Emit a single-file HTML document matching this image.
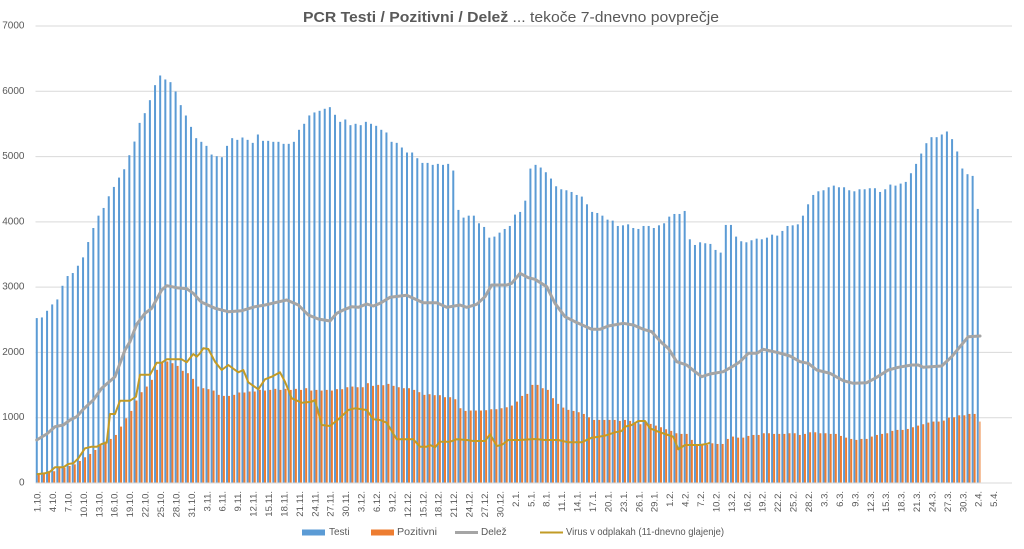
<!DOCTYPE html>
<html><head><meta charset="utf-8">
<style>
html,body{margin:0;padding:0;background:#fff;width:1024px;height:549px;overflow:hidden}
svg{display:block;font-family:"Liberation Sans",Arial,sans-serif}
.xl{font-size:9.5px;text-anchor:end;dominant-baseline:central;fill:#595959}
.yl{font-size:10px;text-anchor:end;dominant-baseline:central;fill:#595959}
.lg{font-size:10px;dominant-baseline:central;fill:#595959}
</style></head><body>
<svg id="s" width="1024" height="549" viewBox="0 0 1024 549" xmlns="http://www.w3.org/2000/svg">
<rect x="0" y="0" width="1024" height="549" fill="#fff"/>
<text x="303" y="22" font-size="15" fill="#595959" textLength="416" lengthAdjust="spacingAndGlyphs"><tspan font-weight="bold">PCR Testi / Pozitivni / Delež</tspan> ... tekoče 7-dnevno povprečje</text>
<g stroke="#d9d9d9" stroke-width="1">
<line x1="35.5" x2="1012" y1="417.71" y2="417.71"/>
<line x1="35.5" x2="1012" y1="352.43" y2="352.43"/>
<line x1="35.5" x2="1012" y1="287.14" y2="287.14"/>
<line x1="35.5" x2="1012" y1="221.86" y2="221.86"/>
<line x1="35.5" x2="1012" y1="156.57" y2="156.57"/>
<line x1="35.5" x2="1012" y1="91.29" y2="91.29"/>
<line x1="35.5" x2="1012" y1="26" y2="26"/>
</g>
<g>
<text class="yl" x="24.5" y="483">0</text>
<text class="yl" x="24.5" y="417.71">1000</text>
<text class="yl" x="24.5" y="352.43">2000</text>
<text class="yl" x="24.5" y="287.14">3000</text>
<text class="yl" x="24.5" y="221.86">4000</text>
<text class="yl" x="24.5" y="156.57">5000</text>
<text class="yl" x="24.5" y="91.29">6000</text>
<text class="yl" x="24.5" y="26">7000</text>
</g>
<g id="bars"></g>
<line x1="35.5" x2="1012" y1="483" y2="483" stroke="#d9d9d9" stroke-width="1"/>
<polyline fill="none" stroke="#a5a5a5" stroke-width="3" stroke-linejoin="round" stroke-linecap="round" points="36.7,440 46.7,434 55,426.7 63.3,425 70,420 76.7,416.7 83.3,409.3 93.3,400 101.7,388.3 115,376.7 125,350 130,341.7 136.7,324.3 145,313.3 151.7,308.3 161.7,290 166.7,285.7 176.7,287.7 186.7,288.7 193.3,293.3 200,300.7 201.7,302.3 215,308.3 228.3,311.7 241.7,310.7 255,306.7 265,305 275,302.7 286.7,300 298.3,305 308.3,315 318.3,319 330,321 336.7,313.3 343.3,310 351.7,306.7 358.3,307.3 366.7,304 373.3,306 380,303.3 390,297.3 406.7,295.3 413.3,298.3 423.3,302.7 436.7,302.7 446.7,307.3 460,305 466.7,307.3 476.7,304.3 485,296.7 491.7,285 506.7,285 511.7,283.3 520,273.3 528.3,277.7 535,279.3 546.7,286.7 555,303.3 565,316.7 575,321.7 591.7,329.3 600,329.3 608.3,326 623.3,323.3 633.3,325 643.3,329.3 651.7,331.7 661.7,342.7 668.3,348.3 676.7,361.7 686.7,365 695,371.7 701.7,376.7 710,374 723.3,371.7 733.3,366 740,361.7 748.3,353.3 756.7,353.3 763.3,349.3 778.3,352.7 790,356 800,361.7 808.3,363.3 816.7,370 830,373.3 843.3,380.7 853.3,383.3 866.7,382.7 875,378.3 888.3,370 898.3,367.3 911.7,365 918.3,365 923.3,367.3 941.7,366 951.7,356.7 960,346.7 968.3,336.7 980,336"/>
<polyline fill="none" stroke="#c29b26" stroke-width="2" stroke-linejoin="round" points="36.7,474.3 45,473.3 50,471.7 55,467.3 63.3,467.3 68.3,464 73.3,463.3 78.3,458.3 85,448.3 91.7,446.7 96.7,446.7 101.7,444 106.7,442.7 110,414 115,414 120,400.7 130,400.7 136,396.7 140,374.7 150,374.7 156.7,362.7 161.7,362.7 166.7,359.3 181.7,359.3 186.7,362.3 193.3,354 196.7,356.7 200,353.3 203.3,348.3 208.3,349 215,361.7 221.7,370 228.3,365 238.3,372.3 243.3,370 248.3,382.3 258.3,389.3 265,379.3 271.7,376.7 280,372.3 285,381.7 291.7,398.3 301.7,402.7 311.7,401.7 315,400 321.7,425 330,426 338.3,419.3 348.3,410 355,408.3 366.7,410 373.3,419.3 380,420 386.7,422.7 396.7,439.3 413.3,439.3 420,446.7 426.7,446.7 430,445 435,447.3 440,441.7 450,441.7 456.7,439.3 466.7,440 473.3,441 485,441 490,434.3 496.7,446 501.7,445 508.3,440 520,440 535,439 545,440 558.3,440 568.3,442.3 581.7,442.3 591.7,437.7 605,435.7 615,432.3 621.7,431 625,426.7 631.7,425 638.3,421 645,421 650,428.3 658.3,431.7 665,434 673.3,436.7 678.3,449.3 685,445 700,445 706.7,444 710,442.7"/>
<g>
<text class="xl" transform="translate(38.07 491) rotate(-90)">1.10.</text>
<text class="xl" transform="translate(53.5 491) rotate(-90)">4.10.</text>
<text class="xl" transform="translate(68.93 491) rotate(-90)">7.10.</text>
<text class="xl" transform="translate(84.36 491) rotate(-90)">10.10.</text>
<text class="xl" transform="translate(99.79 491) rotate(-90)">13.10.</text>
<text class="xl" transform="translate(115.2 491) rotate(-90)">16.10.</text>
<text class="xl" transform="translate(130.6 491) rotate(-90)">19.10.</text>
<text class="xl" transform="translate(146.1 491) rotate(-90)">22.10.</text>
<text class="xl" transform="translate(161.5 491) rotate(-90)">25.10.</text>
<text class="xl" transform="translate(176.9 491) rotate(-90)">28.10.</text>
<text class="xl" transform="translate(192.4 491) rotate(-90)">31.10.</text>
<text class="xl" transform="translate(207.8 491) rotate(-90)">3.11.</text>
<text class="xl" transform="translate(223.2 491) rotate(-90)">6.11.</text>
<text class="xl" transform="translate(238.6 491) rotate(-90)">9.11.</text>
<text class="xl" transform="translate(254.1 491) rotate(-90)">12.11.</text>
<text class="xl" transform="translate(269.5 491) rotate(-90)">15.11.</text>
<text class="xl" transform="translate(284.9 491) rotate(-90)">18.11.</text>
<text class="xl" transform="translate(300.4 491) rotate(-90)">21.11.</text>
<text class="xl" transform="translate(315.8 491) rotate(-90)">24.11.</text>
<text class="xl" transform="translate(331.2 491) rotate(-90)">27.11.</text>
<text class="xl" transform="translate(346.7 491) rotate(-90)">30.11.</text>
<text class="xl" transform="translate(362.1 491) rotate(-90)">3.12.</text>
<text class="xl" transform="translate(377.5 491) rotate(-90)">6.12.</text>
<text class="xl" transform="translate(392.9 491) rotate(-90)">9.12.</text>
<text class="xl" transform="translate(408.4 491) rotate(-90)">12.12.</text>
<text class="xl" transform="translate(423.8 491) rotate(-90)">15.12.</text>
<text class="xl" transform="translate(439.2 491) rotate(-90)">18.12.</text>
<text class="xl" transform="translate(454.7 491) rotate(-90)">21.12.</text>
<text class="xl" transform="translate(470.1 491) rotate(-90)">24.12.</text>
<text class="xl" transform="translate(485.5 491) rotate(-90)">27.12.</text>
<text class="xl" transform="translate(501 491) rotate(-90)">30.12.</text>
<text class="xl" transform="translate(516.4 491) rotate(-90)">2.1.</text>
<text class="xl" transform="translate(531.8 491) rotate(-90)">5.1.</text>
<text class="xl" transform="translate(547.2 491) rotate(-90)">8.1.</text>
<text class="xl" transform="translate(562.7 491) rotate(-90)">11.1.</text>
<text class="xl" transform="translate(578.1 491) rotate(-90)">14.1.</text>
<text class="xl" transform="translate(593.5 491) rotate(-90)">17.1.</text>
<text class="xl" transform="translate(609 491) rotate(-90)">20.1.</text>
<text class="xl" transform="translate(624.4 491) rotate(-90)">23.1.</text>
<text class="xl" transform="translate(639.8 491) rotate(-90)">26.1.</text>
<text class="xl" transform="translate(655.2 491) rotate(-90)">29.1.</text>
<text class="xl" transform="translate(670.7 491) rotate(-90)">1.2.</text>
<text class="xl" transform="translate(686.1 491) rotate(-90)">4.2.</text>
<text class="xl" transform="translate(701.5 491) rotate(-90)">7.2.</text>
<text class="xl" transform="translate(717 491) rotate(-90)">10.2.</text>
<text class="xl" transform="translate(732.4 491) rotate(-90)">13.2.</text>
<text class="xl" transform="translate(747.8 491) rotate(-90)">16.2.</text>
<text class="xl" transform="translate(763.2 491) rotate(-90)">19.2.</text>
<text class="xl" transform="translate(778.7 491) rotate(-90)">22.2.</text>
<text class="xl" transform="translate(794.1 491) rotate(-90)">25.2.</text>
<text class="xl" transform="translate(809.5 491) rotate(-90)">28.2.</text>
<text class="xl" transform="translate(825 491) rotate(-90)">3.3.</text>
<text class="xl" transform="translate(840.4 491) rotate(-90)">6.3.</text>
<text class="xl" transform="translate(855.8 491) rotate(-90)">9.3.</text>
<text class="xl" transform="translate(871.3 491) rotate(-90)">12.3.</text>
<text class="xl" transform="translate(886.7 491) rotate(-90)">15.3.</text>
<text class="xl" transform="translate(902.1 491) rotate(-90)">18.3.</text>
<text class="xl" transform="translate(917.5 491) rotate(-90)">21.3.</text>
<text class="xl" transform="translate(933 491) rotate(-90)">24.3.</text>
<text class="xl" transform="translate(948.4 491) rotate(-90)">27.3.</text>
<text class="xl" transform="translate(963.8 491) rotate(-90)">30.3.</text>
<text class="xl" transform="translate(979.2 491) rotate(-90)">2.4.</text>
<text class="xl" transform="translate(994.7 491) rotate(-90)">5.4.</text>
</g>
<g>
<rect x="302" y="529.5" width="23" height="6" fill="#5b9bd5"/>
<text class="lg" x="329" y="532.5">Testi</text>
<rect x="371" y="529.5" width="23" height="6" fill="#ed7d31"/>
<text class="lg" x="397" y="532.5" textLength="40" lengthAdjust="spacingAndGlyphs">Pozitivni</text>
<line x1="455" x2="478" y1="532.5" y2="532.5" stroke="#a5a5a5" stroke-width="3"/>
<text class="lg" x="481" y="532.5">Delež</text>
<line x1="540" x2="563" y1="532.5" y2="532.5" stroke="#c29b26" stroke-width="2"/>
<text class="lg" x="566" y="532.5" textLength="158" lengthAdjust="spacingAndGlyphs">Virus v odplakah (11-dnevno glajenje)</text>
</g>
</svg>
<script>
(function(){
var T=[2526,2536,2638,2735,2812,3021,3170,3216,3328,3456,
3691,3906,4095,4213,4392,4535,4678,4806,5021,5230,
5516,5665,5864,6094,6242,6181,6140,5997,5788,5629,
5455,5282,5226,5164,5031,5006,4990,5164,5282,5256,
5292,5256,5210,5338,5241,5241,5226,5226,5195,5195,
5226,5410,5502,5630,5676,5701,5732,5757,5640,5532,
5568,5481,5502,5481,5532,5502,5471,5410,5369,5226,
5210,5139,5062,5062,4975,4903,4903,4873,4888,4873,
4888,4786,4183,4065,4095,4095,3978,3922,3758,3774,
3835,3891,3937,4111,4152,4325,4816,4873,4832,4760,
4663,4545,4499,4484,4458,4412,4387,4269,4152,4136,
4095,4034,4019,3937,3947,3962,3906,3891,3937,3937,
3906,3947,3978,4080,4121,4121,4167,3733,3646,3687,
3672,3662,3570,3529,3953,3953,3774,3703,3687,3718,
3743,3733,3758,3804,3789,3861,3937,3947,3962,4095,
4269,4412,4468,4484,4530,4555,4530,4530,4484,4468,
4499,4499,4515,4515,4458,4499,4571,4555,4586,4612,
4745,4888,5046,5205,5297,5297,5338,5384,5267,5078,
4817,4730,4704,4198];
var P=[150,158,160,180,235,235,261,286,337,394,
445,506,583,634,675,736,864,992,1104,1263,
1391,1477,1580,1733,1845,1861,1835,1794,1718,1682,
1595,1477,1452,1437,1416,1350,1334,1334,1350,1386,
1386,1401,1401,1427,1416,1426,1442,1426,1442,1426,
1442,1426,1452,1416,1426,1416,1426,1416,1437,1437,
1467,1477,1467,1467,1529,1488,1503,1498,1518,1488,
1467,1452,1452,1426,1391,1350,1360,1345,1345,1314,
1314,1283,1145,1104,1110,1110,1110,1115,1130,1130,
1145,1160,1186,1247,1334,1365,1503,1503,1452,1426,
1299,1212,1155,1120,1104,1084,1058,1007,966,966,
966,966,966,951,966,951,915,900,941,905,
879,854,823,798,762,752,752,660,598,583,
583,608,598,598,675,711,695,695,721,736,
736,762,762,752,752,752,762,762,736,752,
777,777,762,762,752,752,721,695,675,660,
675,675,711,736,752,762,798,813,813,828,
854,879,900,925,941,941,956,1002,1007,1037,
1037,1058,1058,941];
var ns='http://www.w3.org/2000/svg',g=document.getElementById('bars');
var W=977/190,X0=35.5,Y0=483,K=457/7000;
function r(x,v,col){var h=v*K,e=document.createElementNS(ns,'rect');
e.setAttribute('x',x.toFixed(2));e.setAttribute('y',(Y0-h).toFixed(2));
e.setAttribute('width','2');e.setAttribute('height',h.toFixed(2));e.setAttribute('fill',col);g.appendChild(e);}
for(var i=0;i<T.length;i++){var c=X0+(i+0.5)*W;
r(c-2.3,T[i],'#5b9bd5');
r(c-0.3,P[i],i==183?'#f4b183':'#ed7d31');}
})();
</script>
</body></html>
